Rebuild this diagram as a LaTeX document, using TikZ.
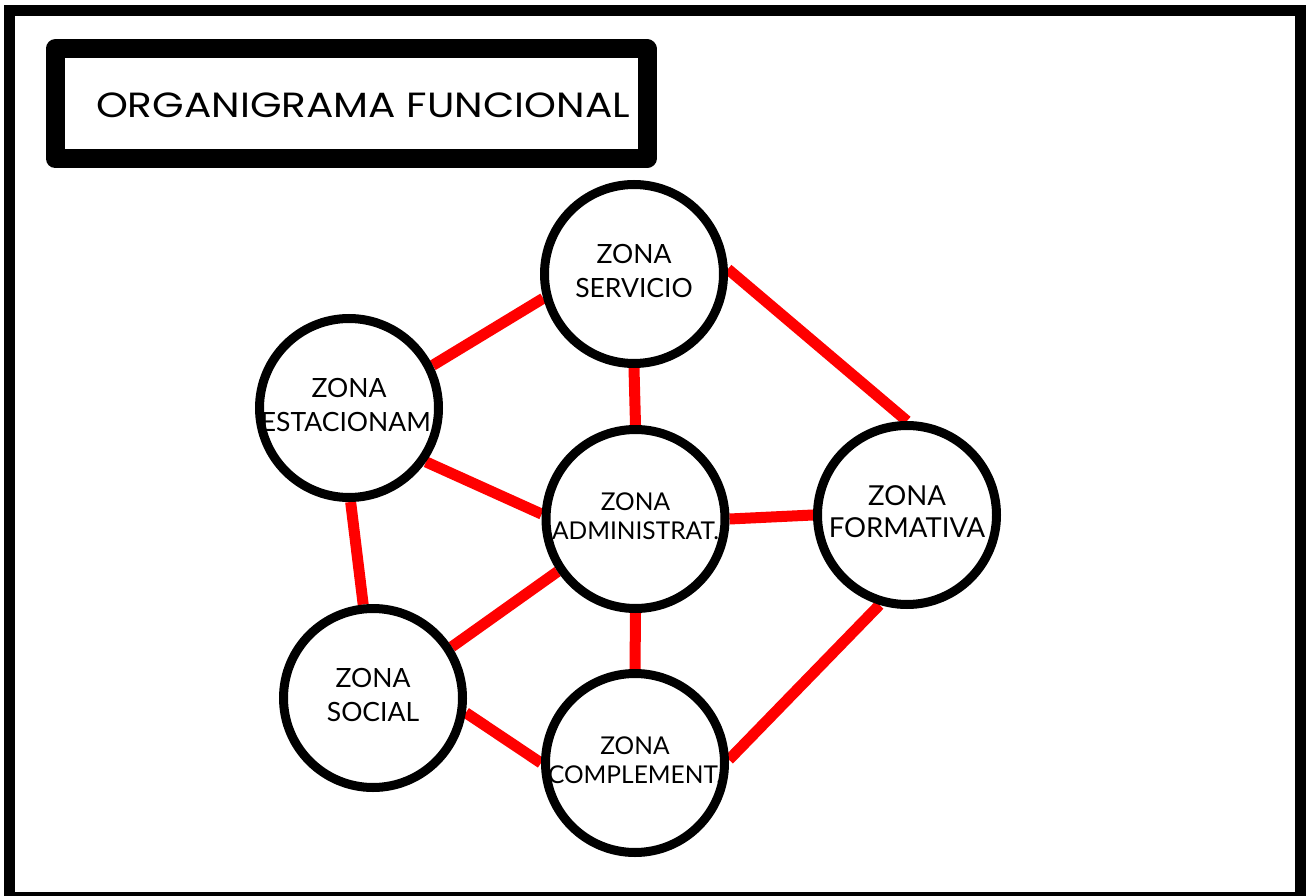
\documentclass[tikz,border=0pt]{standalone}
\usepackage{fontspec}
\newfontfamily\labelfont{Lato}
\newfontfamily\titlefont{Poppins}
\usetikzlibrary{backgrounds}
\newcommand\zonelabel[2]{\raisebox{-6pt}[0pt][0pt]{\makebox[0pt]{\begin{tabular}{@{}c@{}}#1\\#2\end{tabular}}}}
\begin{document}
\begin{tikzpicture}[x=1pt,y=-1pt,
  zone/.style={circle, draw=black, line width=9pt, fill=white, minimum size=179pt,
    inner sep=0pt, font=\labelfont\fontsize{26.5}{34}\selectfont},
  zonesmall/.style={zone, font=\labelfont\fontsize{24.5}{29}\selectfont},
  link/.style={draw=red, line width=11pt}]
\useasboundingbox (0,0) rectangle (1307,896);
% outer frame
\draw[line width=11pt] (9,10.5) rectangle (1300,897);
% title box
\draw[line width=19pt, line join=round] (55,49) rectangle (647,158.5);
\node[font=\titlefont\fontsize{35}{40}\selectfont, inner sep=0pt] (title) at (363,105) {\scalebox{1.16}[1]{ORGANIGRAMA FUNCIONAL}};
% zones
\node[zone] (servicio) at (634,274) {\zonelabel{ZONA}{SERVICIO}};
\node[zone] (estacionam) at (349,408) {\zonelabel{ZONA}{ESTACIONAM.}};
\node[zonesmall] (admin) at (635.5,519) {\zonelabel{ZONA}{ADMINISTRAT.}};
\node[zone, font=\labelfont\fontsize{27.5}{32}\selectfont] (formativa) at (907,515) {\zonelabel{ZONA}{FORMATIVA}};
\node[zone] (social) at (373,698) {\zonelabel{ZONA}{SOCIAL}};
\node[zonesmall] (complement) at (635,763) {\zonelabel{ZONA}{COMPLEMENT.}};
% links
\begin{scope}[on background layer]
\fill[white] (0,0) rectangle (1307,896);
\draw[link] (servicio.195) -- (estacionam.27);
\draw[link] (servicio.south) -- (admin.north);
\draw[link] (servicio.3) -- (formativa.north);
\draw[link] (estacionam.-35) -- (admin.177);
\draw[link] (estacionam.-89) -- (social.96);
\draw[link] (admin.0) -- (formativa.180);
\draw[link] (admin.214) -- (social.33.5);
\draw[link] (admin.south) -- (complement.north);
\draw[link] (social.-9.5) -- (complement.180);
\draw[link] (formativa.253) -- (complement.2);
\end{scope}
\end{tikzpicture}
\end{document}
